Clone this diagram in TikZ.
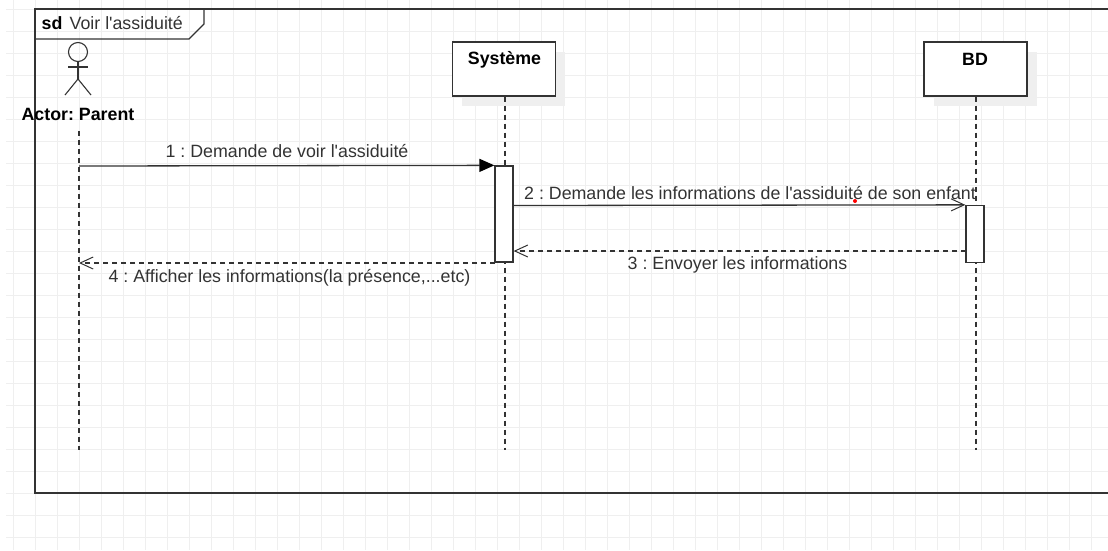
\documentclass[tikz,border=0pt]{standalone}
\usepackage{fontspec}
\setmainfont{Liberation Sans}[Ligatures=TeXOff]
\usetikzlibrary{arrows.meta}
\definecolor{umlline}{HTML}{333333}
\definecolor{gridline}{HTML}{EFEFEF}
\definecolor{shadowfill}{HTML}{EFEFEF}
\frenchspacing
\begin{document}
\begin{tikzpicture}[x=1pt, y=-1pt, line width=1.3pt, draw=umlline,
  txt/.style = {inner sep=0pt, text=umlline, font=\fontsize{17.8}{20}\selectfont},
  head/.style = {txt, text=black, font=\fontsize{17.8}{20}\selectfont\bfseries},
  main/.style = {draw, fill=white, minimum width=103pt, minimum height=54pt, inner sep=0pt},
  shade/.style = {fill=shadowfill, draw=none, minimum width=103pt, minimum height=54pt, inner sep=0pt},
  bar/.style = {draw, fill=white, minimum width=18pt, inner sep=0pt},
  life/.style = {dash pattern=on 5pt off 4pt, line width=1.2pt},
  sync/.style = {-{Triangle[length=15pt,width=13pt,color=black]}},
  open/.style = {-{Straight Barb[length=13pt,width=12pt,line width=1pt]}},
  back/.style = {open, dash pattern=on 5pt off 4pt}]
  \useasboundingbox (0,0) rectangle (1108,550);
  % background grid
  \foreach \i in {0,...,49} {\draw[gridline, line width=1pt] (13+22*\i,0) -- (13+22*\i,550);}
  \foreach \i in {0,...,24} {\draw[gridline, line width=1pt] (6,9+22*\i) -- (1108,9+22*\i);}
  % frame
  \coordinate (f1) at (1108,9);
  \coordinate (f2) at (35,9);
  \coordinate (f3) at (35,493);
  \coordinate (f4) at (1108,493);
  \draw (f1) -- (f2) -- (f3) -- (f4);
  \coordinate (t1) at (204,9);
  \coordinate (t2) at (204,24);
  \coordinate (t3) at (189,39);
  \coordinate (t4) at (35,39);
  \draw (t1) -- (t2) -- (t3) -- (t4);
  \node[head, anchor=west] (sd) at (41,23) {sd};
  \node[txt, anchor=west] (title) at (69,23) {Voir l'assiduité};
  % actor
  \node[draw, circle, minimum size=19pt, inner sep=0pt, line width=1.1pt] (hd) at (78,52) {};
  \coordinate (hip) at (78,79);
  \coordinate (armL) at (68,67);
  \coordinate (armR) at (88,67);
  \coordinate (legL) at (65,95);
  \coordinate (legR) at (91,95);
  \draw[line width=1.1pt] (hd) -- (hip);
  \draw[line width=1.1pt] (armL) -- (armR);
  \draw[line width=1.1pt] (legL) -- (hip) -- (legR);
  \node[head] (parent) at (78,114) {Actor: Parent};
  % boxes
  \node[shade] at (513.5,79) {};
  \node[shade] at (985,79) {};
  \node[main] (sys) at (504,69) {};
  \node[main] (bd) at (975.5,69) {};
  \node[head] at (504.5,59.5) {Système};
  \node[head] at (975,59.5) {BD};
  % lifelines
  \coordinate (p1) at (79,131);
  \coordinate (p2) at (79,450);
  \coordinate (s2) at (505,450);
  \coordinate (b2) at (976,450);
  \draw[life] (p1) -- (p2);
  \draw[life] (sys.south -| 505,0) -- (s2);
  \draw[life] (bd.south -| 976,0) -- (b2);
  % activations
  \node[bar, minimum height=96pt] (act1) at (504,214) {};
  \node[bar, minimum height=57pt] (act2) at (975,234) {};
  % messages
  \coordinate (m1) at (79,166);
  \coordinate (m2) at (513,205.5);
  \coordinate (m3) at (966,251);
  \coordinate (m4) at (495,263);
  \draw[sync] (m1) -- (act1.north west);
  \draw[open] (m2) -- (act2.north west);
  \draw[back] (m3) -- (act1.east |- m3);
  \draw[back] (m4) -- (p1 |- m4);
  \node[txt] at (287,151) {1 : Demande de voir l'assiduité};
  \node[txt] at (750,193) {2 : Demande les informations de l'assiduité de son enfant};
  \node[txt] at (737.5,265) {3 : Envoyer les informations};
  \node[txt] at (289.5,278) {4 : Afficher les informations(la présence,...etc)};
  \fill[red] (855,201) circle (2pt);
\end{tikzpicture}
\end{document}
